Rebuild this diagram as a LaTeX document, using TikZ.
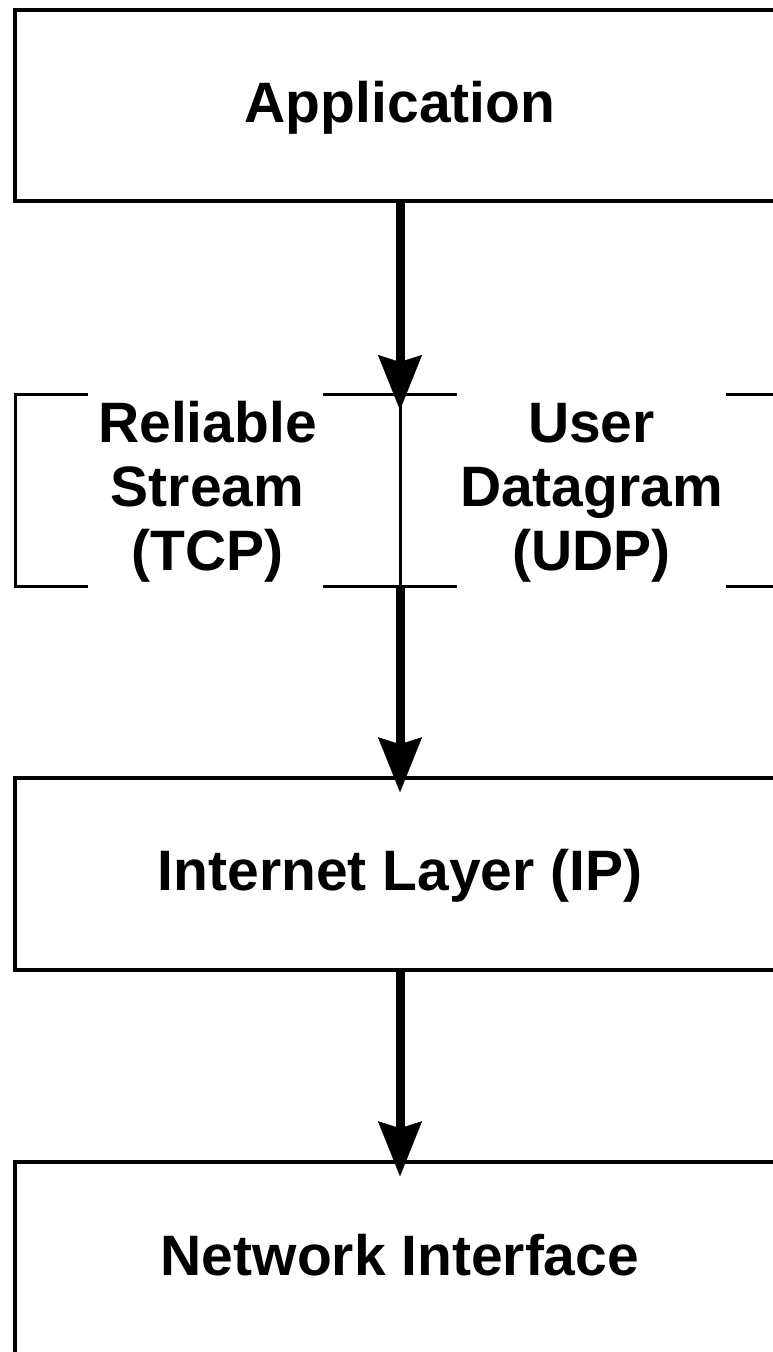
\documentclass[tikz,border=0pt]{standalone}
\usepackage{fontspec}
\setmainfont{Liberation Sans}
\usetikzlibrary{arrows.meta}

\tikzset{
  layerbox/.style={draw=black, line width=3.5pt, rectangle, inner sep=0pt,
    minimum width=770pt},
  label/.style={font=\bfseries\fontsize{57}{64}\selectfont, inner sep=0pt, anchor=base},
  flow/.style={line width=9pt,
    -{Stealth[length=55pt, width=44pt, inset=7pt, line width=0.4pt]},
    shorten >=-16pt},
  bracket/.style={line width=3pt},
}

\begin{document}
\begin{tikzpicture}[x=1pt, y=-1pt]
  \useasboundingbox (0,0) rectangle (773,1352);
  \clip (0,0) rectangle (773,1352);

  % layer boxes (they run past the right edge)
  \node[layerbox, minimum height=191pt] (app)  at (400,105.5) {};
  \node[layerbox, minimum height=192pt] (inet) at (400,874) {};
  \node[layerbox, minimum height=194pt] (net)  at (400,1259) {};

  \node[label] (appT)  at (400,122)  {Application};
  \node[label] (inetT) at (400,890)  {Internet Layer (IP)};
  \node[label] (netT)  at (400,1275) {Network Interface};

  % transport layer: open-sided frame split in two
  \coordinate (tt) at (400,394);
  \coordinate (tb) at (400,586);
  \draw[bracket] (88,394) -- (15,394) -- (15,586) -- (88,586);
  \draw[bracket] (323,394) -- (457,394);
  \draw[bracket] (323,586) -- (457,586);
  \draw[bracket] (726,394) -- (790,394);
  \draw[bracket] (726,586) -- (790,586);
  \draw[line width=3pt] (tt) -- (tb);

  \node[label] (tcp1) at (207.5,442) {Reliable};
  \node[label] (tcp2) at (207.5,506) {Stream};
  \node[label] (tcp3) at (207.5,570) {(TCP)};
  \node[label] (udp1) at (591.5,442) {User};
  \node[label] (udp2) at (591.5,506) {Datagram};
  \node[label] (udp3) at (591.5,570) {(UDP)};

  % data flow downward
  \draw[flow] (app.south) -- (tt);
  \draw[flow] (tb) -- (inet.north);
  \draw[flow] (inet.south) -- (net.north);
\end{tikzpicture}
\end{document}
